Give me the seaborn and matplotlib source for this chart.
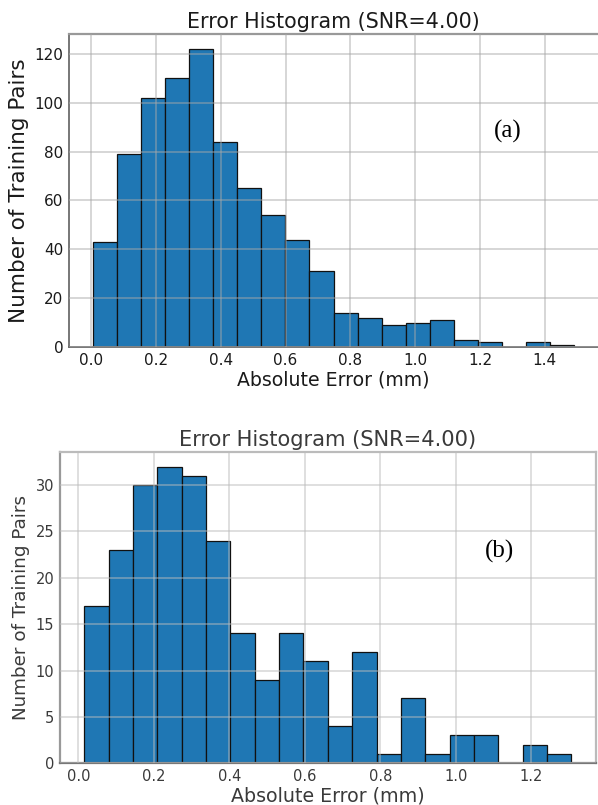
# =========================
# IMPORT LIBRARIES
# =========================

import numpy as np
import pandas as pd
import matplotlib
matplotlib.use("Agg")
import matplotlib.pyplot as plt
import seaborn as sns

# =========================
# DATA
# =========================

# (a) training set histogram, 20 bins
counts_a = [43, 79, 102, 110, 122, 84, 65, 54, 44, 31,
            14, 12, 9, 10, 11, 3, 2, 0, 2, 1]
err_min_a = 0.006
err_max_a = 1.490

# (b) second histogram, 20 bins
counts_b = [17, 23, 30, 32, 31, 24, 14, 9, 14, 11,
            4, 12, 1, 7, 1, 3, 3, 0, 2, 1]
err_min_b = 0.016
err_max_b = 1.306

x_ticks = [0.0, 0.2, 0.4, 0.6, 0.8, 1.0, 1.2, 1.4]

title_text = "Error Histogram (SNR=4.00)"
x_label = "Absolute Error (mm)"
y_label = "Number of Training Pairs"

# =========================
# STYLE
# =========================

sns.set_theme(style="whitegrid")
plt.rcParams['font.family'] = ['DejaVu Sans']

bar_color = "#1f77b4"

fig = plt.figure(figsize=(5.98, 8.05), dpi=100)


def draw_panel(ax, counts, lo, hi, label, fs_title, fs_xlab, fs_ylab, fs_tick,
               text_color, grid_color, label_pos):
    edges = np.linspace(lo, hi, len(counts) + 1)
    df = pd.DataFrame({
        "err": (edges[:-1] + edges[1:]) / 2,
        "count": counts
    })

    sns.histplot(
        data=df,
        x="err",
        weights="count",
        bins=list(edges),
        ax=ax,
        color=bar_color,
        edgecolor="#111111",
        linewidth=0.9,
        alpha=1
    )

    ax.set_title(title_text, fontsize=fs_title, color=text_color, pad=4)
    ax.set_xlabel(x_label, fontsize=fs_xlab, color=text_color, labelpad=2)
    ax.set_ylabel(y_label, fontsize=fs_ylab, color=text_color, labelpad=4)
    ax.tick_params(labelsize=fs_tick, colors=text_color, length=0, pad=4)

    # grid drawn over the bars, semi transparent
    ax.grid(True, color=grid_color, linewidth=1.2, alpha=0.55)
    ax.set_axisbelow(False)
    for p in ax.patches:
        p.set_zorder(1)

    ax.set_xticks([t for t in x_ticks if t <= hi + 0.01])

    ax.text(label_pos[0], label_pos[1], label, transform=ax.transAxes,
            fontsize=18, family="Liberation Serif", color="black",
            ha="center", va="center")


# =========================
# PANEL (a)
# =========================

ax1 = fig.add_axes([0.1154, 0.5689, 0.8846, 0.3888])
draw_panel(ax1, counts_a, err_min_a, err_max_a, "(a)",
           14.9, 13.6, 15.5, 11, "#1a1a1a", "#a8a8a8", (0.83, 0.69))
ax1.spines["left"].set_color("#666666")
ax1.spines["bottom"].set_color("#666666")
ax1.spines["top"].set_color("#999999")
ax1.spines["top"].set_linewidth(1.6)
ax1.spines["right"].set_visible(False)

# =========================
# PANEL (b)
# =========================

ax2 = fig.add_axes([0.1003, 0.0518, 0.8958, 0.3871])
draw_panel(ax2, counts_b, err_min_b, err_max_b, "(b)",
           15.1, 13.7, 13.2, 10.5, "#3a3a3a", "#bbbbbb", (0.82, 0.68))
for s in ax2.spines.values():
    s.set_color("#bbbbbb")
    s.set_linewidth(1.6)
ax2.spines["left"].set_color("#999999")
ax2.spines["bottom"].set_color("#777777")

plt.savefig("out.png", dpi=100)
